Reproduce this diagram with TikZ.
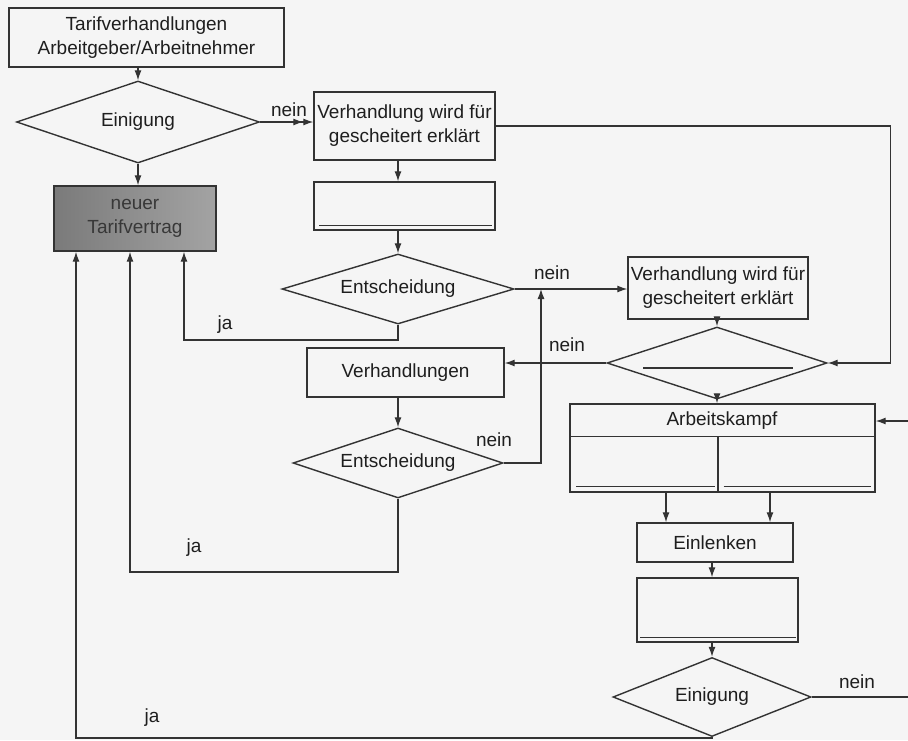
\documentclass[tikz,border=0pt]{standalone}
\usepackage{fontspec}
\setmainfont{Liberation Sans}
\usepackage{tikz}
\usetikzlibrary{shapes.geometric, arrows.meta}
\definecolor{linie}{HTML}{333333}
\definecolor{schrift}{HTML}{1E1E1E}
\tikzstyle{kasten} = [rectangle, draw=linie, line width=1.4pt, text=schrift, align=center, inner sep=0pt]
\tikzstyle{raute} = [diamond, draw=linie, line width=1.4pt, text=schrift, inner sep=0pt, aspect=3.2]
\tikzstyle{pfeil} = [draw=linie, line width=1.2pt, ->, >={Latex[length=10pt,width=7pt]}]
\tikzstyle{marke} = [text=schrift, inner sep=0pt]
\tikzstyle{strich} = [draw=linie, line width=1.2pt]

\begin{document}
\begin{tikzpicture}[x=1pt, y=-1pt, font=\fontsize{19}{24}\selectfont]
\fill[black!4] (0,0) rectangle (908,740);
\useasboundingbox (0,0) rectangle (908,740);

% linke Spalte
\node (tarif) [kasten, minimum width=275pt, minimum height=59pt] at (146.5,37.5) {Tarifverhandlungen\\Arbeitgeber/Arbeitnehmer};
\node (einig1) [raute, minimum width=243pt, minimum height=82pt, aspect=2.96] at (138,122) {Einigung};
\node (neu) [kasten, minimum width=162pt, minimum height=65pt, left color=black!52, middle color=black!18, right color=black!36, text=black!78] at (135,218.5) {neuer\\Tarifvertrag};

% mittlere Spalte
\node (vg1) [kasten, minimum width=181pt, minimum height=68pt] at (404.5,126) {Verhandlung wird für\\gescheitert erklärt};
\node (leer1) [kasten, minimum width=181pt, minimum height=48pt] at (404.5,206) {};
\node (ent1) [raute, minimum width=232pt, minimum height=70pt, aspect=3.31] at (398,289) {Entscheidung};
\node (verh) [kasten, minimum width=197pt, minimum height=49pt] at (405.5,372.5) {Verhandlungen};
\node (ent2) [raute, minimum width=210pt, minimum height=70pt, aspect=3] at (398,463) {Entscheidung};

% rechte Spalte
\node (vg2) [kasten, minimum width=180pt, minimum height=62pt] at (718,288) {Verhandlung wird für\\gescheitert erklärt};
\node (leer2) [raute, minimum width=220pt, minimum height=72pt, aspect=3.05] at (717,363) {};
\node (kampf) [kasten, minimum width=305pt, minimum height=88pt] at (722.5,448) {};
\node (kampftext) [marke] at (722,421) {Arbeitskampf};
\node (einl) [kasten, minimum width=156pt, minimum height=39pt] at (715,542.5) {Einlenken};
\node (leer3) [kasten, minimum width=161pt, minimum height=64pt] at (717.5,610) {};
\node (einig2) [raute, minimum width=198pt, minimum height=79pt, aspect=2.5] at (712,697) {Einigung};

% Linien in den leeren Feldern
\draw [strich] ([xshift=6pt,yshift=5pt]leer1.south west) -- ([xshift=-4pt,yshift=5pt]leer1.south east);
\draw [strich] ([xshift=-74pt,yshift=-5pt]leer2.center) -- ([xshift=76pt,yshift=-5pt]leer2.center);
\draw [strich] ([xshift=4pt,yshift=5pt]leer3.south west) -- ([xshift=-3pt,yshift=5pt]leer3.south east);
\draw [strich] ([yshift=-33pt]kampf.north west) -- ([yshift=-33pt]kampf.north east);
\draw [strich] ([xshift=-4.5pt,yshift=-33pt]kampf.north) -- ([xshift=-4.5pt]kampf.south);
\draw [strich] ([xshift=7pt,yshift=6pt]kampf.south west) -- ([xshift=-8pt,yshift=6pt]kampf.south);
\draw [strich] ([xshift=1pt,yshift=6pt]kampf.south) -- ([xshift=-5pt,yshift=6pt]kampf.south east);

% Beschriftungen
\node (nein1) [marke] at (289,110) {nein};
\node (nein2) [marke] at (552,273) {nein};
\node (nein3) [marke] at (567,345) {nein};
\node (nein4) [marke] at (494,440) {nein};
\node (nein5) [marke] at (857,682) {nein};
\node (ja1) [marke] at (225,325) {ja};
\node (ja2) [marke] at (194,548) {ja};
\node (ja3) [marke] at (152,718) {ja};

\coordinate (unten1) at (184,340);
\coordinate (unten2) at (130,572);
\coordinate (unten3) at (76,738);
\coordinate (knick) at (541,0);
\coordinate (rand) at (930,0);

% Pfeile
\draw [pfeil] (tarif.south -| einig1.north) -- (einig1.north);
\draw [pfeil] (einig1.south) -- (einig1.south |- neu.north);
\draw [pfeil, ->>] (einig1.east) -- (einig1.east -| vg1.west);
\draw [pfeil] (vg1.east) -- ++(395,0) |- (leer2.east);
\draw [pfeil] (vg1.south -| ent1.north) -- (leer1.north -| ent1.north);
\draw [pfeil] (leer1.south -| ent1.north) -- (ent1.north);
\draw [pfeil] (ent1.east) -- (ent1.east -| vg2.west);
\draw [pfeil] (ent1.south) |- (unten1) -- (unten1 |- neu.south);
\draw [pfeil] (leer2.west) -- (leer2.west -| verh.east);
\draw [pfeil] (verh.south -| ent2.north) -- (ent2.north);
\draw [pfeil] (ent2.east) -| (knick |- ent1.east);
\draw [pfeil] (ent2.south) |- (unten2) -- (unten2 |- neu.south);
\draw [pfeil] (vg2.south -| leer2.north) -- (leer2.north);
\draw [pfeil] (leer2.south) -- (leer2.south |- kampf.north);
\draw [pfeil] ([xshift=-56.5pt]kampf.south) -- ([xshift=-56.5pt]kampf.south |- einl.north);
\draw [pfeil] ([xshift=47.5pt]kampf.south) -- ([xshift=47.5pt]kampf.south |- einl.north);
\draw [pfeil] (einl.south -| einig2.north) -- (leer3.north -| einig2.north);
\draw [pfeil] (leer3.south -| einig2.north) -- (einig2.north);
\draw [pfeil] (einig2.east) -| (rand |- kampftext) -- (kampftext -| kampf.east);
\draw [pfeil] (einig2.south) |- (unten3) -- (unten3 |- neu.south);
\end{tikzpicture}
\end{document}
